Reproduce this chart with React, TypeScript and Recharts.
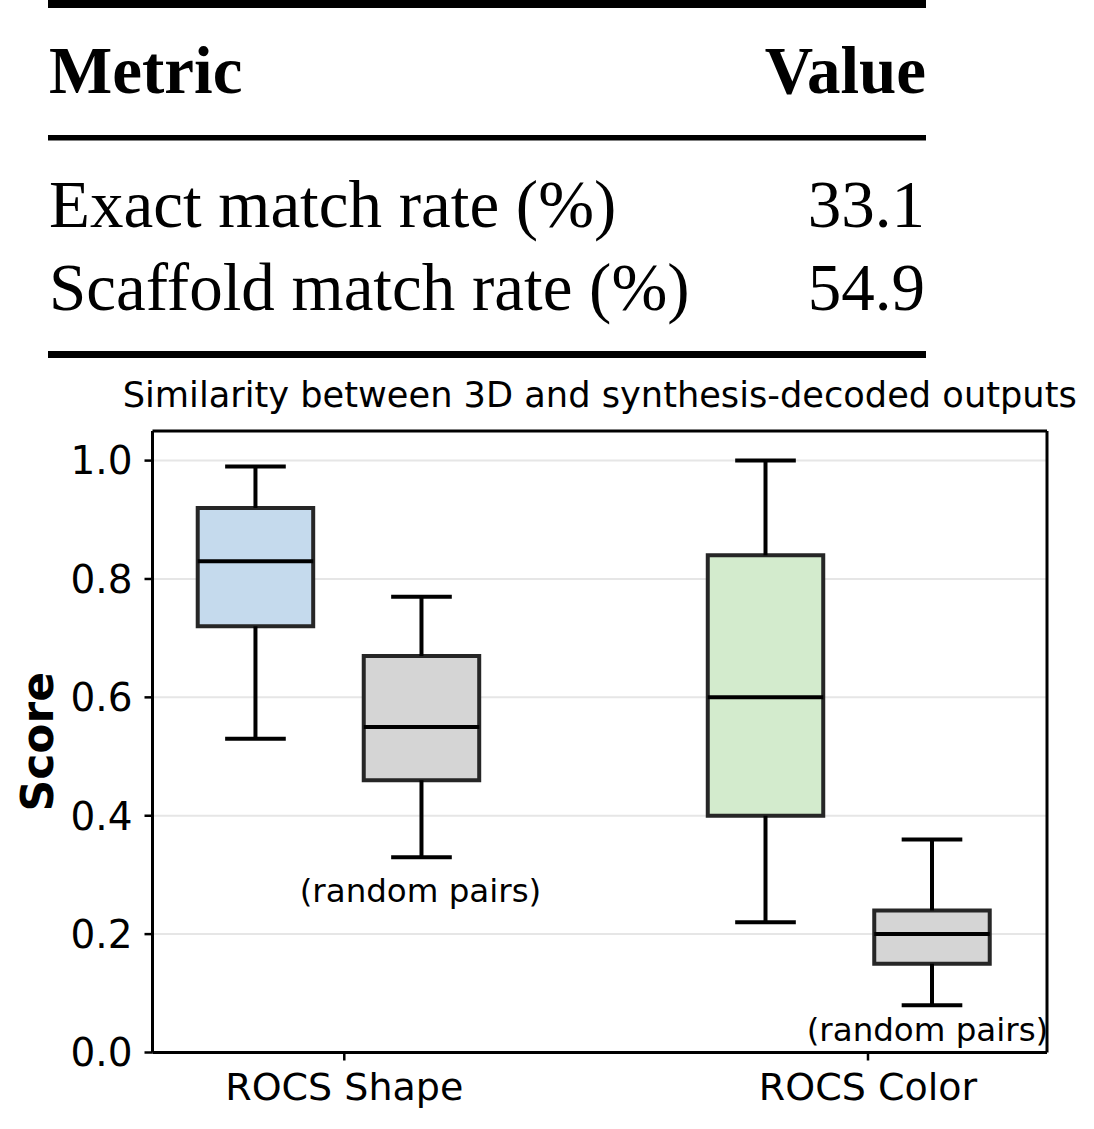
import React from 'react';
import {
  ComposedChart,
  XAxis,
  YAxis,
  CartesianGrid,
  ReferenceArea,
  ReferenceLine,
  ReferenceDot,
} from 'recharts';

// ---- summary table ----
const metricNames = ['Exact match rate (%)', 'Scaffold match rate (%)'];
const metricValues = ['33.1', '54.9'];

// ---- box plot data ----
const categories = ['ROCS Shape', 'ROCS Color'];
const seriesNames = ['3D vs synthesis-decoded', 'random pairs'];
// five-number summaries: [whisker low, q1, median, q3, whisker high]
const shapeDecoded = [0.53, 0.72, 0.83, 0.92, 0.99];
const shapeRandom = [0.33, 0.46, 0.55, 0.67, 0.77];
const colorDecoded = [0.22, 0.4, 0.6, 0.84, 1.0];
const colorRandom = [0.08, 0.15, 0.2, 0.24, 0.36];
const yTicks = [0, 0.2, 0.4, 0.6, 0.8, 1.0];
const annotationText = '(random pairs)';

// layout: category i sits at x = i; boxes are offset around it
const X_MIN = -0.3662;
const X_MAX = 1.3418;
const Y_MAX = 1.05;
const BOX_W = 0.2205;
const CAP_HALF = 0.0579;
const LINE_W = 4;

const boxes = [
  { stats: shapeDecoded, x: -0.1696, fill: '#c5daed' },
  { stats: shapeRandom, x: 0.1474, fill: '#d5d5d5' },
  { stats: colorDecoded, x: 0.8043, fill: '#d3ebcd' },
  { stats: colorRandom, x: 1.1222, fill: '#d5d5d5' },
];

// annotation anchors (x in category units, y at the text baseline)
const annotations = [
  { x: 0.1455, y: 0.254 },
  { x: 1.1136, y: 0.0201 },
];

const SANS = '"DejaVu Sans", sans-serif';
const SERIF = '"Liberation Serif", "Times New Roman", serif';

function Table() {
  const left = 48;
  const right = 926;
  return (
    <svg width={1094} height={365} style={{ position: 'absolute', left: 0, top: 0 }}>
      <rect x={left} y={0} width={right - left} height={8} fill="#000" />
      <text x={49} y={93} fontFamily={SERIF} fontWeight="bold" fontSize={67} fill="#000">
        Metric
      </text>
      <text x={926} y={93} fontFamily={SERIF} fontWeight="bold" fontSize={67} fill="#000" textAnchor="end">
        Value
      </text>
      <rect x={left} y={135} width={right - left} height={5.5} fill="#000" />
      {metricNames.map((name, i) => (
        <g key={name}>
          <text x={49} y={226.5 + i * 83.5} fontFamily={SERIF} fontSize={67} fill="#000">
            {name}
          </text>
          <text x={925} y={226.5 + i * 83.5} fontFamily={SERIF} fontSize={67} fill="#000" textAnchor="end">
            {metricValues[i]}
          </text>
        </g>
      ))}
      <rect x={left} y={351} width={right - left} height={7} fill="#000" />
    </svg>
  );
}

function ScoreLabel(props: any) {
  const vb = props.viewBox || { x: 0, y: 0, width: 0, height: 0 };
  const cx = vb.x + 53;
  const cy = vb.y + vb.height / 2;
  return (
    <text
      x={cx}
      y={cy}
      transform={`rotate(-90 ${cx} ${cy})`}
      textAnchor="middle"
      fontFamily={SANS}
      fontWeight="bold"
      fontSize={44}
      fill="#000"
    >
      Score
    </text>
  );
}

function BoxPlot() {
  const marks: React.ReactNode[] = [];
  boxes.forEach((b, i) => {
    const [lo, q1, med, q3, hi] = b.stats;
    // whiskers and caps
    marks.push(
      <ReferenceLine key={`wl${i}`} segment={[{ x: b.x, y: q1 }, { x: b.x, y: lo }]} stroke="#000" strokeWidth={LINE_W} />,
      <ReferenceLine key={`wh${i}`} segment={[{ x: b.x, y: q3 }, { x: b.x, y: hi }]} stroke="#000" strokeWidth={LINE_W} />,
      <ReferenceLine key={`cl${i}`} segment={[{ x: b.x - CAP_HALF, y: lo }, { x: b.x + CAP_HALF, y: lo }]} stroke="#000" strokeWidth={LINE_W} />,
      <ReferenceLine key={`ch${i}`} segment={[{ x: b.x - CAP_HALF, y: hi }, { x: b.x + CAP_HALF, y: hi }]} stroke="#000" strokeWidth={LINE_W} />,
    );
    // box
    marks.push(
      <ReferenceArea
        key={`b${i}`}
        x1={b.x - BOX_W / 2}
        x2={b.x + BOX_W / 2}
        y1={q1}
        y2={q3}
        fill={b.fill}
        fillOpacity={1}
        stroke="#262626"
        strokeWidth={LINE_W}
      />,
    );
    // median
    marks.push(
      <ReferenceLine
        key={`m${i}`}
        segment={[{ x: b.x - BOX_W / 2, y: med }, { x: b.x + BOX_W / 2, y: med }]}
        stroke="#000"
        strokeWidth={LINE_W}
      />,
    );
  });

  return (
    <div style={{ position: 'absolute', left: 0, top: 370 }}>
      <ComposedChart
        width={1094}
        height={759}
        margin={{ top: 61, right: 47, bottom: 0, left: 0 }}
        data={[]}
      >
        <text x={599.75} y={37} textAnchor="middle" fontFamily={SANS} fontSize={35.2} fill="#000">
          Similarity between 3D and synthesis-decoded outputs
        </text>
        <CartesianGrid vertical={false} stroke="#e6e6e6" strokeWidth={2} />
        <XAxis
          type="number"
          dataKey="x"
          domain={[X_MIN, X_MAX]}
          ticks={[0, 1]}
          tickFormatter={(v: number) => categories[Math.round(v)] ?? ''}
          allowDataOverflow
          height={76.5}
          tickSize={8}
          tickMargin={12.5}
          axisLine={{ stroke: '#000', strokeWidth: 3 }}
          tickLine={{ stroke: '#000', strokeWidth: 2.5 }}
          tick={{ fill: '#000', fontSize: 38, fontFamily: SANS }}
        />
        <YAxis
          type="number"
          domain={[0, Y_MAX]}
          ticks={yTicks}
          allowDataOverflow
          width={152.5}
          tickSize={8}
          tickMargin={12}
          tickFormatter={(v: number) => v.toFixed(1)}
          axisLine={{ stroke: '#000', strokeWidth: 3 }}
          tickLine={{ stroke: '#000', strokeWidth: 2.5 }}
          tick={{ fill: '#000', fontSize: 39, fontFamily: SANS }}
          label={<ScoreLabel />}
        />
        {/* top and right spines */}
        <ReferenceLine y={Y_MAX} stroke="#000" strokeWidth={3} />
        <ReferenceLine x={X_MAX} stroke="#000" strokeWidth={3} />
        {marks}
        {annotations.map((a, i) => (
          <ReferenceDot
            key={`a${i}`}
            x={a.x}
            y={a.y}
            r={0}
            shape={(p: any) => (
              <text x={p.cx} y={p.cy} textAnchor="middle" fontFamily={SANS} fontSize={32.5} fill="#000">
                {annotationText}
              </text>
            )}
          />
        ))}
      </ComposedChart>
    </div>
  );
}

export default function App() {
  return (
    <div
      style={{ position: 'absolute', left: 0, top: 0, width: 1094, height: 1129, background: '#fff' }}
      aria-label={seriesNames.join(', ')}
    >
      <Table />
      <BoxPlot />
    </div>
  );
}
